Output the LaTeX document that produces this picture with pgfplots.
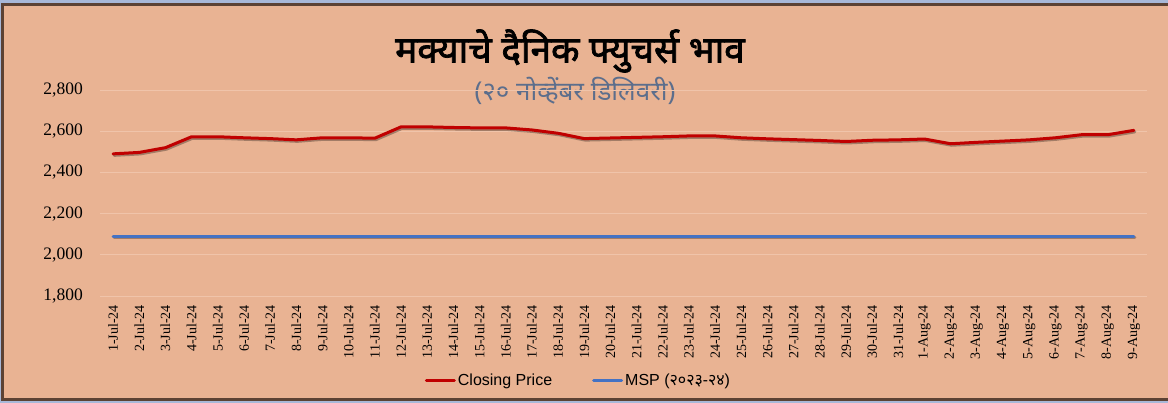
\documentclass[border=0pt]{standalone}
\usepackage{pgfplots}
\pgfplotsset{compat=1.18}
\usepackage{fontspec}
\setmainfont{Liberation Serif}
\newfontfamily\devfont[Script=Devanagari]{Noto Sans}
\newfontfamily\devbold[Script=Devanagari, FakeBold=2]{Noto Sans}
\newfontfamily\arialfont{Liberation Sans}
\definecolor{peach}{RGB}{233,179,147}
\definecolor{brd}{RGB}{92,66,52}
\definecolor{lblue}{RGB}{168,184,216}
\definecolor{redl}{RGB}{192,0,0}
\definecolor{bluel}{RGB}{68,114,196}
\definecolor{subc}{RGB}{92,110,140}
\definecolor{gridc}{RGB}{240,196,170}
\begin{document}
\begin{tikzpicture}[x=1pt,y=1pt]
\useasboundingbox (0,0) rectangle (1168,403);
\fill[lblue] (0,0) rectangle (1168,403);
\fill[brd] (1,2) rectangle (1168,400);
\fill[peach] (4,5) rectangle (1168,397);
\node[font=\devbold\fontsize{37}{42}\selectfont, text=black] at (570,352) {मक्याचे दैनिक फ्युचर्स भाव};
\node[font=\devfont\fontsize{26}{30}\selectfont, text=subc] at (575,312) {(२० नोव्हेंबर डिलिवरी)};
\begin{axis}[
  at={(100pt,107pt)}, anchor=south west,
  scale only axis, width=1047pt, height=206pt,
  xmin=-0.5, xmax=39.5, ymin=1800, ymax=2800,
  ytick={1800,2000,2200,2400,2600,2800},
  xtick={0,...,39},
  xticklabels={1-Jul-24,2-Jul-24,3-Jul-24,4-Jul-24,5-Jul-24,6-Jul-24,7-Jul-24,8-Jul-24,9-Jul-24,10-Jul-24,11-Jul-24,12-Jul-24,13-Jul-24,14-Jul-24,15-Jul-24,16-Jul-24,17-Jul-24,18-Jul-24,19-Jul-24,20-Jul-24,21-Jul-24,22-Jul-24,23-Jul-24,24-Jul-24,25-Jul-24,26-Jul-24,27-Jul-24,28-Jul-24,29-Jul-24,30-Jul-24,31-Jul-24,1-Aug-24,2-Aug-24,3-Aug-24,4-Aug-24,5-Aug-24,6-Aug-24,7-Aug-24,8-Aug-24,9-Aug-24},
  axis line style={draw=none},
  tick style={draw=none},
  major tick length=0pt,
  ymajorgrids, grid style={color=gridc, line width=0.8pt},
  /pgf/number format/.cd, 1000 sep={,}, assume math mode=true,
  /pgfplots/.cd,
  yticklabel style={font=\fontsize{17.5}{20}\selectfont, anchor=east, inner sep=0pt},
  yticklabel shift=17pt,
  xticklabel style={font=\fontsize{14}{16}\selectfont, rotate=90, anchor=east, inner sep=0pt},
  xticklabel shift=9pt,
  legend style={at={(0.457,-0.408)}, anchor=center, draw=none, fill=none,
    font=\arialfont\fontsize{16}{18}\selectfont,
    /tikz/every even column/.append style={column sep=38pt}},
  legend columns=2,
  legend image code/.code={\draw[#1] (0pt,0pt) -- (28pt,0pt);},
]
\addplot[black, opacity=0.3, line width=3pt, line join=round, line cap=round, transform canvas={xshift=1pt,yshift=-1.5pt}, forget plot] coordinates {
(0,2490)(1,2497)(2,2520)(3,2573)(4,2573)(5,2568)(6,2564)(7,2558)(8,2568)(9,2568)
(10,2566)(11,2621)(12,2621)(13,2618)(14,2616)(15,2616)(16,2606)(17,2590)(18,2564)(19,2567)
(20,2570)(21,2573)(22,2577)(23,2577)(24,2568)(25,2563)(26,2559)(27,2555)(28,2550)(29,2556)
(30,2558)(31,2562)(32,2539)(33,2546)(34,2552)(35,2558)(36,2568)(37,2583)(38,2583)(39,2604)};
\addplot[black, opacity=0.3, line width=3pt, line cap=round, transform canvas={xshift=1pt,yshift=-1.5pt}, forget plot] coordinates {
(0,2090)(39,2090)};
\addplot[redl, line width=3pt, line join=round, line cap=round] coordinates {
(0,2490)(1,2497)(2,2520)(3,2573)(4,2573)(5,2568)(6,2564)(7,2558)(8,2568)(9,2568)
(10,2566)(11,2621)(12,2621)(13,2618)(14,2616)(15,2616)(16,2606)(17,2590)(18,2564)(19,2567)
(20,2570)(21,2573)(22,2577)(23,2577)(24,2568)(25,2563)(26,2559)(27,2555)(28,2550)(29,2556)
(30,2558)(31,2562)(32,2539)(33,2546)(34,2552)(35,2558)(36,2568)(37,2583)(38,2583)(39,2604)};
\addlegendentry{Closing Price}
\addplot[bluel, line width=3pt, line cap=round] coordinates {
(0,2090)(1,2090)(2,2090)(3,2090)(4,2090)(5,2090)(6,2090)(7,2090)(8,2090)(9,2090)
(10,2090)(11,2090)(12,2090)(13,2090)(14,2090)(15,2090)(16,2090)(17,2090)(18,2090)(19,2090)
(20,2090)(21,2090)(22,2090)(23,2090)(24,2090)(25,2090)(26,2090)(27,2090)(28,2090)(29,2090)
(30,2090)(31,2090)(32,2090)(33,2090)(34,2090)(35,2090)(36,2090)(37,2090)(38,2090)(39,2090)};
\addlegendentry{MSP ({\devfont २०२३-२४})}
\end{axis}
\end{tikzpicture}
\end{document}
